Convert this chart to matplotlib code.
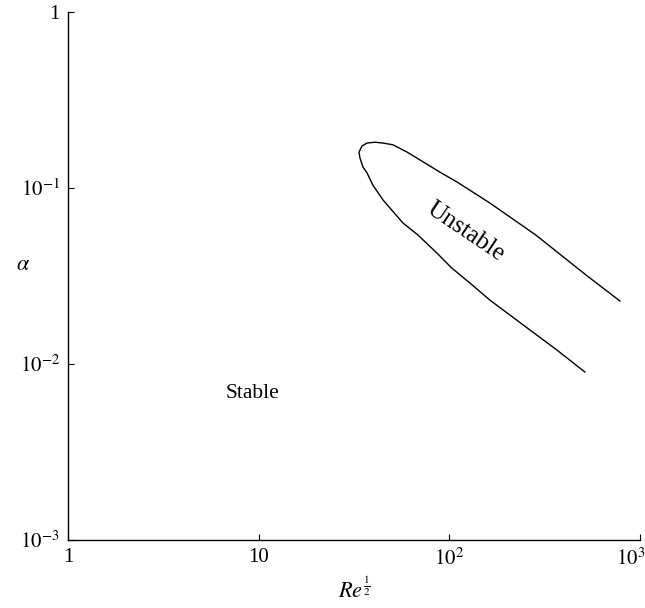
import numpy as np
import matplotlib
matplotlib.use('Agg')
import matplotlib.pyplot as plt
from matplotlib.transforms import ScaledTranslation

plt.rcParams['font.family'] = 'Liberation Serif'
plt.rcParams['mathtext.fontset'] = 'stix'

# neutral stability curve, traced lower end -> nose -> upper end
re_half = [514, 367, 265, 163, 128, 103, 86.1, 68.4, 57.1, 44.9, 39.7, 37.0,
           35.2, 34.0, 33.6, 34.8, 37.0, 40.7, 44.9, 50.6, 60.0, 72.7, 89.3,
           110, 163, 284, 520, 785]
alpha = [0.00901, 0.0120, 0.0156, 0.0231, 0.0289, 0.0351, 0.0427, 0.0541,
         0.0633, 0.0855, 0.104, 0.122, 0.132, 0.148, 0.160, 0.173, 0.180,
         0.182, 0.180, 0.176, 0.160, 0.141, 0.123, 0.108, 0.0822, 0.0541,
         0.0321, 0.0228]

x_ticks = [1, 10, 100, 1000]
x_labels = ['1', '10', r'$10^{2}$', r'$10^{3}$']
y_ticks = [1e-3, 1e-2, 1e-1, 1]
y_labels = [r'$10^{-3}$', r'$10^{-2}$', r'$10^{-1}$', '1']

fig = plt.figure(figsize=(6.45, 6.08), dpi=100)
ax = fig.add_axes([0.1054, 0.1118, 0.8868, 0.8685])

ax.plot(re_half, alpha, color='black', linewidth=1.0)

ax.set_xscale('log')
ax.set_yscale('log')
ax.set_xlim(1, 1000)
ax.set_ylim(1e-3, 1)
ax.set_xticks(x_ticks)
ax.set_xticklabels(x_labels)
ax.set_yticks(y_ticks)
ax.set_yticklabels(y_labels)
ax.minorticks_off()
ax.tick_params(direction='in', length=4, width=0.8, labelsize=15, pad=6)

# last x label sits a little left of its tick so it stays inside the figure
last = ax.get_xticklabels()[-1]
last.set_transform(last.get_transform() + ScaledTranslation(-0.09, 0, fig.dpi_scale_trans))

for s in ['top', 'right']:
    ax.spines[s].set_visible(False)
for s in ['left', 'bottom']:
    ax.spines[s].set_linewidth(1.0)

ax.text(9.34, 0.00684, 'Stable', fontsize=15.5, ha='center', va='center')
ax.text(122, 0.0562, 'Unstable', fontsize=18, ha='center', va='center', rotation=-34)

ax.set_xlabel(r'$\mathit{Re}^{\frac{1}{2}}$', fontsize=16, labelpad=6)
ax.set_ylabel(r'$\alpha$', fontsize=16, rotation=0, va='center')
ax.yaxis.set_label_coords(-0.078, 0.52)

fig.savefig('out.png', dpi=100, facecolor='white')
